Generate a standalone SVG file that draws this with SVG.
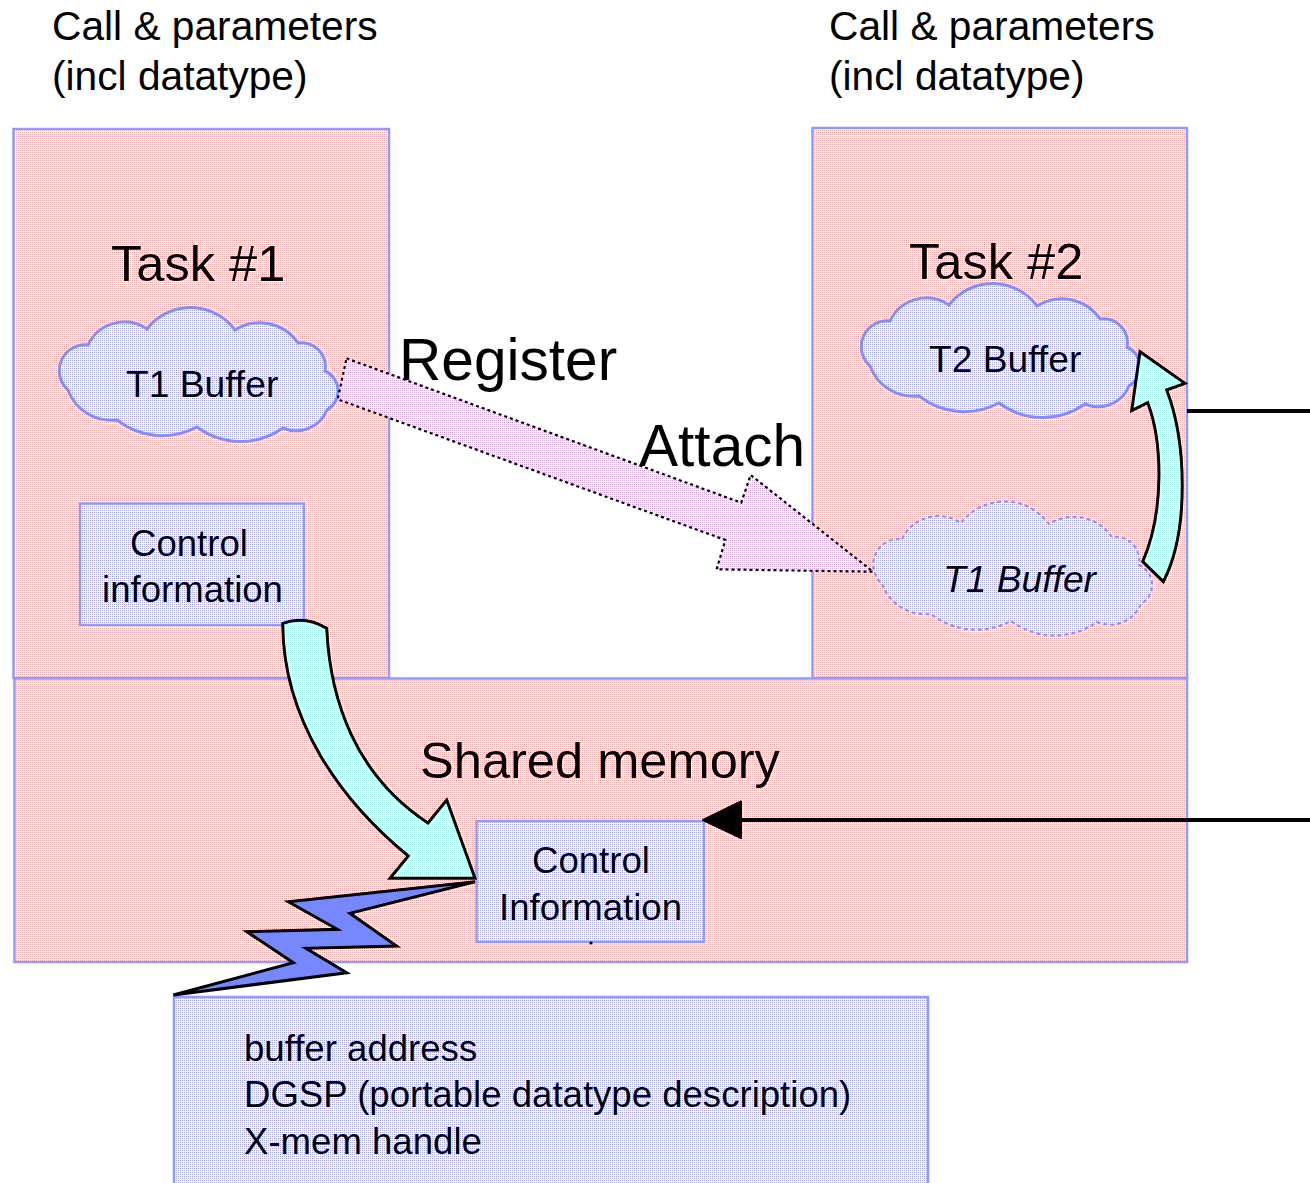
<svg xmlns="http://www.w3.org/2000/svg" width="1310" height="1183" viewBox="0 0 1310 1183">
  <defs>
    <!-- dotted halftone fills -->
    <pattern id="pinkDots" width="2" height="2" patternUnits="userSpaceOnUse">
      <rect width="2" height="2" fill="#ffffff"/>
      <rect width="1" height="1" fill="#F7A3A3"/>
    </pattern>
    <pattern id="blueDots" width="2" height="2" patternUnits="userSpaceOnUse">
      <rect width="2" height="2" fill="#ffffff"/>
      <rect width="1" height="1" fill="#A3A3F7"/>
    </pattern>
    <pattern id="cyanDots" width="2" height="2" patternUnits="userSpaceOnUse">
      <rect width="2" height="2" fill="#ffffff"/>
      <rect width="1" height="1" fill="#A8F8EA"/>
    </pattern>
    <pattern id="mauveDots" width="2" height="2" patternUnits="userSpaceOnUse">
      <rect width="2" height="2" fill="#ffffff"/>
      <rect width="1" height="1" fill="#D0A0D8"/>
    </pattern>
    <path id="cloud" d="M28,37 A40.2,40.2 0 0 1 87,21 A55,55 0 0 1 175,22 A46.3,46.3 0 0 1 238,35 A23.9,23.9 0 0 1 265,63 A21.8,21.8 0 0 1 267,102 A33.2,33.2 0 0 1 223,120 A73,73 0 0 1 137,119 A73.2,73.2 0 0 1 57,112 A46.3,46.3 0 0 1 8,82 A25.8,25.8 0 0 1 28,37 Z"/>
  </defs>
  <style>
    text { font-family: "Liberation Sans", Arial, sans-serif; fill: #000; }
    .region { fill: url(#pinkDots); stroke: #8E9BFF; stroke-width: 2.5; }
    .box { fill: url(#blueDots); stroke: #8E9BFF; stroke-width: 2.5; }
    .cloud { fill: url(#blueDots); stroke: #7F8FFF; stroke-width: 3; }
    .cloud.ghost { stroke-width: 2; stroke-dasharray: 4 3; }
    .bend { fill: url(#cyanDots); stroke: #000; stroke-width: 3; stroke-linejoin: miter; }
    .t36 { font-size: 36.6px; }
    .t37 { font-size: 37.2px; }
    .t40 { font-size: 40.7px; }
    .t50 { font-size: 50.6px; }
    .t58 { font-size: 58.6px; }
  </style>

  <rect width="1310" height="1183" fill="#ffffff"/>

  <!-- headers above each task -->
  <g id="label-call-1">
    <text class="t40" x="52" y="40">Call &amp; parameters</text>
    <text class="t40" x="52" y="90">(incl datatype)</text>
  </g>
  <g id="label-call-2">
    <text class="t40" x="829" y="40">Call &amp; parameters</text>
    <text class="t40" x="829" y="90">(incl datatype)</text>
  </g>

  <!-- task regions and shared memory -->
  <g id="task1">
    <rect class="region" x="13.5" y="129" width="375.5" height="549"/>
    <text class="t50" x="111" y="281">Task #1</text>
  </g>
  <g id="task2">
    <rect class="region" x="812.5" y="128" width="374.5" height="550"/>
    <text class="t50" x="909" y="279">Task #2</text>
  </g>
  <g id="shared-memory">
    <rect class="region" x="14.5" y="678.5" width="1172.5" height="283.5"/>
    <text class="t50" x="420" y="778">Shared memory</text>
  </g>

  <!-- buffers -->
  <g id="t1-buffer">
    <use href="#cloud" class="cloud" transform="translate(60,308)"/>
    <text class="t37" x="126" y="397">T1 Buffer</text>
  </g>
  <g id="t2-buffer">
    <use href="#cloud" class="cloud" transform="translate(862,284)"/>
    <text class="t37" x="929" y="372">T2 Buffer</text>
  </g>
  <g id="t1-buffer-attached">
    <use href="#cloud" class="cloud ghost" transform="translate(874,502)"/>
    <text class="t37" x="943" y="592" font-style="italic">T1 Buffer</text>
  </g>

  <!-- control information blocks -->
  <g id="control-info-task1">
    <rect class="box" x="80" y="503.5" width="224" height="121.5"/>
    <text class="t36" x="130" y="556">Control</text>
    <text class="t36" x="102" y="602">information</text>
  </g>
  <g id="control-info-shared">
    <rect class="box" x="476.5" y="821" width="227.5" height="121"/>
    <text class="t36" x="532" y="873">Control</text>
    <text class="t36" x="499" y="920">Information</text>
    <circle cx="591" cy="943" r="1.6" fill="#000"/>
  </g>
  <g id="control-info-details">
    <rect class="box" x="174" y="997" width="754" height="200"/>
    <text class="t36" x="244" y="1061">buffer address</text>
    <text class="t36" x="244" y="1107">DGSP (portable datatype description)</text>
    <text class="t36" x="244" y="1154">X-mem handle</text>
  </g>

  <!-- connectors -->
  <g id="connectors">
    <!-- register / attach block arrow -->
    <polygon points="346.5,358.3 741.2,502.7 750.7,475 873,571.7 716.6,569.3 725.4,540 337.7,399.3"
             fill="url(#mauveDots)" stroke="#000" stroke-width="2.2" stroke-dasharray="3 3"/>
    <text class="t58" x="399" y="380">Register</text>
    <text class="t58" x="639" y="466">Attach</text>

    <!-- control info copied into shared memory -->
    <path class="bend" d="M282.7,623.3 Q305.3,615.2 326.7,628.3 C330,700 355,775 428,823 L446.7,800 L475,878.3 L390,878.3 L408.3,856 C340,800 283,720 282.7,623.3 Z"/>

    <!-- attached buffer mapped into T2 buffer -->
    <path class="bend" d="M1142.7,561.7 L1163.3,581.7 C1190,530 1186,440 1166.7,390 L1185,383.3 L1140,351.7 L1131.7,410.7 L1147.7,402.7 C1162,440 1165,510 1142.7,561.7 Z"/>

    <!-- link from shared control info to its contents -->
    <polygon points="475,881.7 350,913.3 396.7,946 306,948.3 346.7,972.7 173.3,995 293.3,962.7 246.7,931.7 337.3,929.3 288.3,901.7"
             fill="#7788FF" stroke="#000" stroke-width="3" stroke-linejoin="miter"/>

    <!-- external lines on the right -->
    <line x1="1187" y1="411" x2="1310" y2="411" stroke="#000" stroke-width="4"/>
    <line x1="736" y1="820" x2="1310" y2="820" stroke="#000" stroke-width="4"/>
    <polygon points="703,820 741,801.5 741,838" fill="#000" stroke="#000" stroke-width="2" stroke-linejoin="round"/>
  </g>
</svg>
